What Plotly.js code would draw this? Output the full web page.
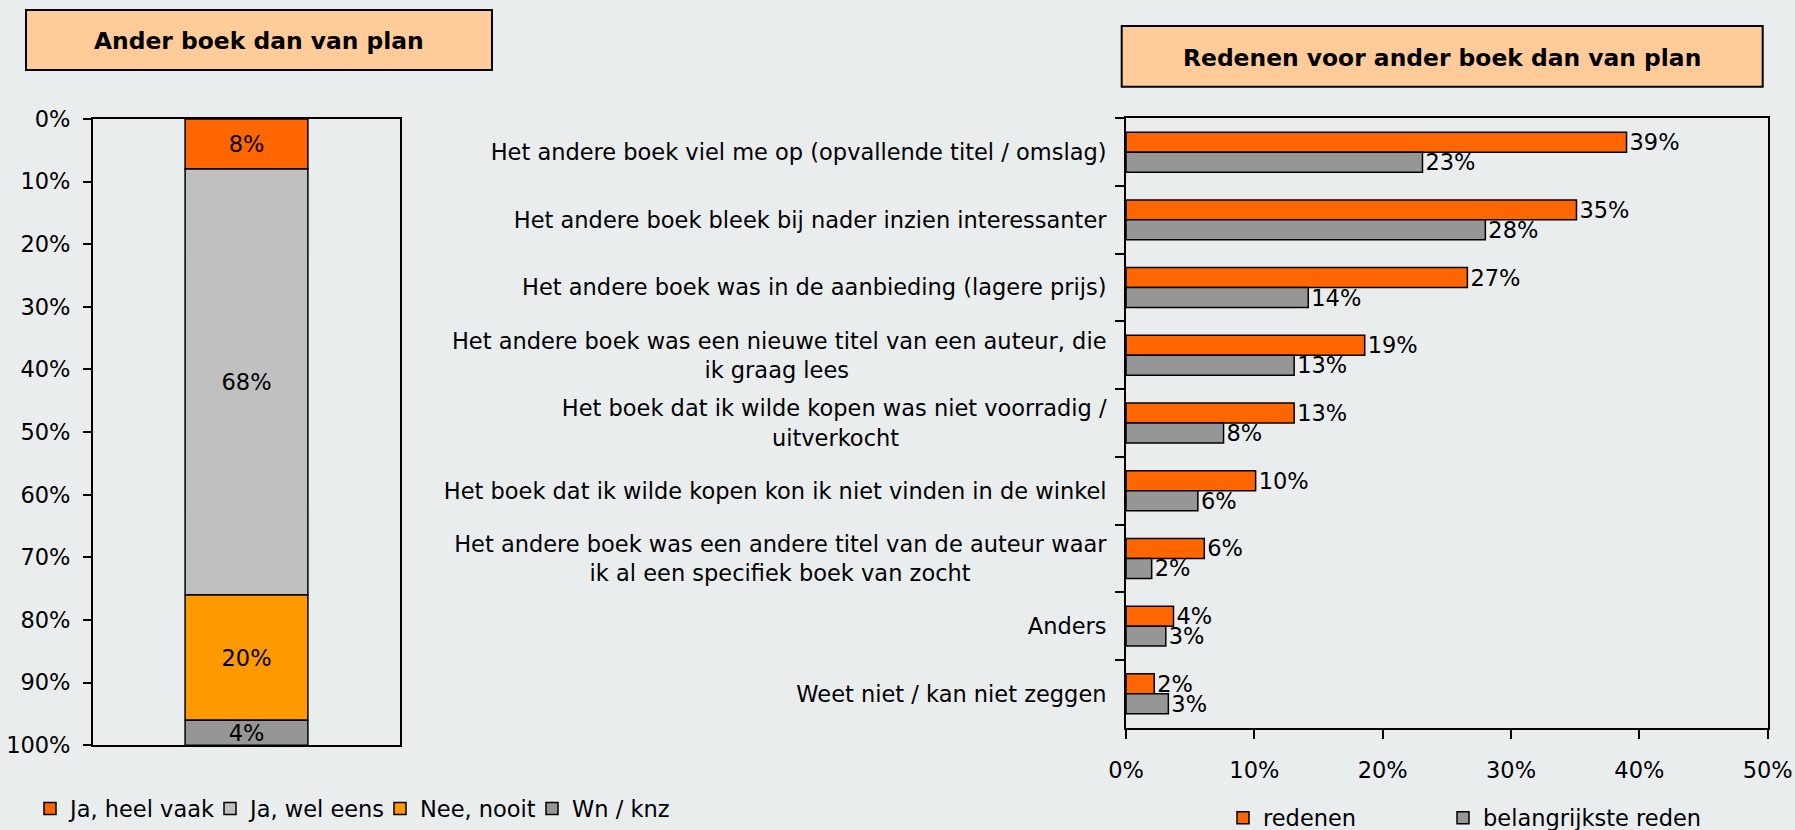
<!DOCTYPE html>
<html><head><meta charset="utf-8">
<script src="https://cdn.plot.ly/plotly-3.0.1.min.js"></script>
<style>html,body{margin:0;padding:0;background:#EAEDED;} #chart{width:1795px;height:830px;}</style>
</head><body><div id="chart"></div>
<script>
// ---------- data: left chart ----------
const planTitle = 'Ander boek dan van plan';
const planCategory = ['Ander boek dan van plan'];
const planSeries = ['Ja, heel vaak', 'Ja, wel eens', 'Nee, nooit', 'Wn / knz'];
const planValues = [8, 68, 20, 4];
const planTicks = [0, 10, 20, 30, 40, 50, 60, 70, 80, 90, 100];

// ---------- data: right chart ----------
const reasonTitle = 'Redenen voor ander boek dan van plan';
const reasonCategories = [
  'Het andere boek viel me op (opvallende titel / omslag)',
  'Het andere boek bleek bij nader inzien interessanter',
  'Het andere boek was in de aanbieding (lagere prijs)',
  'Het andere boek was een nieuwe titel van een auteur, die<br>ik graag lees',
  'Het boek dat ik wilde kopen was niet voorradig /<br>uitverkocht',
  'Het boek dat ik wilde kopen kon ik niet vinden in de winkel',
  'Het andere boek was een andere titel van de auteur waar<br>ik al een specifiek boek van zocht',
  'Anders',
  'Weet niet / kan niet zeggen'
];
const reasonSeries = ['redenen', 'belangrijkste reden'];
const redenenValues = [39.0, 35.1, 26.6, 18.6, 13.1, 10.1, 6.1, 3.7, 2.2];
const belangrijksteValues = [23.1, 28.0, 14.2, 13.1, 7.6, 5.6, 2.0, 3.1, 3.3];
const reasonTicks = [0, 10, 20, 30, 40, 50];

// ---------- styles ----------
const W = 1795, H = 830;
const BG = '#EAEDED';
const FONT = 'DejaVu Sans';
const FS = 22.5;
const planColors = ['#FF6600', '#C0C0C0', '#FF9900', '#969696'];
const reasonColors = ['#FF6600', '#969696'];
const fx = x => x / W;
const fy = y => 1 - y / H;
const pct = v => v + '%';

// center wrapped lines of a category label (as Excel does) by padding with no-break spaces
const cv = document.createElement('canvas').getContext('2d');
cv.font = FS + 'px "' + FONT + '"';
const nbspW = cv.measureText('\u00A0').width || FS * 0.318;
function centerLines(label) {
  const lines = label.split('<br>');
  if (lines.length < 2) return label;
  const widths = lines.map(l => cv.measureText(l).width);
  const maxW = Math.max(...widths);
  return lines.map((l, i) => l + '\u00A0'.repeat(Math.round((maxW - widths[i]) / 2 / nbspW))).join('<br>');
}
const reasonLabels = reasonCategories.map(centerLines);

const traces = [];
let cum = 0;
planSeries.forEach((name, i) => {
  traces.push({
    type: 'bar', name: name, x: planCategory, y: [planValues[i]], base: [cum], width: 0.4,
    xaxis: 'x', yaxis: 'y',
    marker: {color: planColors[i], line: {color: '#000', width: 1.5}},
    text: [pct(planValues[i])], textposition: 'inside', insidetextanchor: 'middle',
    constraintext: 'none', insidetextfont: {family: FONT, size: FS, color: '#000'},
    legend: i === 0 ? 'legend' : 'legend' + (i + 1), hoverinfo: 'skip'
  });
  cum += planValues[i];
});

[redenenValues, belangrijksteValues].forEach((vals, i) => {
  traces.push({
    type: 'bar', orientation: 'h', name: reasonSeries[i], y: reasonLabels, x: vals,
    xaxis: 'x2', yaxis: 'y2', width: 0.295, offset: i === 0 ? -0.295 : 0,
    marker: {color: reasonColors[i], line: {color: '#000', width: 1.5}},
    texttemplate: '%{x:.0f}%', textposition: 'outside', constraintext: 'none', cliponaxis: false,
    outsidetextfont: {family: FONT, size: FS, color: '#000'},
    legend: 'legend' + (5 + i), hoverinfo: 'skip'
  });
});

const axisCommon = {showline: true, linecolor: '#000', linewidth: 2, mirror: true,
  showgrid: false, zeroline: false, tickcolor: '#000', tickwidth: 2, automargin: false, fixedrange: true,
  tickfont: {family: FONT, size: FS, color: '#000'}};

function legendAt(x, y) {
  return {x: fx(x), xanchor: 'left', y: fy(y), yanchor: 'middle', orientation: 'h',
    bgcolor: 'rgba(0,0,0,0)', borderwidth: 0, font: {family: FONT, size: FS, color: '#000'}};
}

const layout = {
  width: W, height: H,
  paper_bgcolor: BG, plot_bgcolor: BG,
  margin: {l: 0, r: 0, t: 0, b: 0, autoexpand: false},
  barmode: 'overlay',
  font: {family: FONT, size: FS, color: '#000'},
  showlegend: true,
  xaxis: Object.assign({}, axisCommon, {domain: [fx(93), fx(400)], type: 'category',
    showticklabels: false, ticks: '', anchor: 'y'}),
  yaxis: Object.assign({}, axisCommon, {domain: [fy(745.2), fy(119)], range: [100, 0],
    tickmode: 'array', tickvals: planTicks, ticktext: planTicks.map(pct), ticks: 'outside', ticklen: 8,
    anchor: 'x', ticklabelstandoff: 8}),
  xaxis2: Object.assign({}, axisCommon, {domain: [fx(1126), fx(1767.7)], range: [0, 50],
    tickmode: 'array', tickvals: reasonTicks, ticktext: reasonTicks.map(pct), ticks: 'outside', ticklen: 9,
    anchor: 'y2', ticklabelstandoff: 12}),
  yaxis2: Object.assign({}, axisCommon, {domain: [fy(727.7), fy(118.3)], type: 'category',
    autorange: 'reversed', tickson: 'boundaries', ticks: 'outside', ticklen: 9,
    anchor: 'x2', ticklabelstandoff: 13}),
  shapes: [
    {type: 'rect', xref: 'paper', yref: 'paper', x0: fx(26), x1: fx(492), y0: fy(70), y1: fy(10),
      fillcolor: '#FFCC99', line: {color: '#000', width: 2}},
    {type: 'rect', xref: 'paper', yref: 'paper', x0: fx(1121.7), x1: fx(1762.7), y0: fy(86.7), y1: fy(26),
      fillcolor: '#FFCC99', line: {color: '#000', width: 2}}
  ],
  annotations: [
    {xref: 'paper', yref: 'paper', x: fx(259), y: fy(41), text: planTitle, showarrow: false,
      xanchor: 'center', yanchor: 'middle', font: {family: FONT, size: 23.4, weight: 'bold', color: '#000'}},
    {xref: 'paper', yref: 'paper', x: fx(1442.2), y: fy(58), text: reasonTitle, showarrow: false,
      xanchor: 'center', yanchor: 'middle', font: {family: FONT, size: 23.4, weight: 'bold', color: '#000'}}
  ],
  legend: legendAt(30, 808.8),
  legend2: legendAt(210, 808.8),
  legend3: legendAt(380, 808.8),
  legend4: legendAt(532, 808.8),
  legend5: legendAt(1223, 818),
  legend6: legendAt(1443, 818)
};

Plotly.newPlot('chart', traces, layout, {staticPlot: true, displayModeBar: false});
</script>
</body></html>
